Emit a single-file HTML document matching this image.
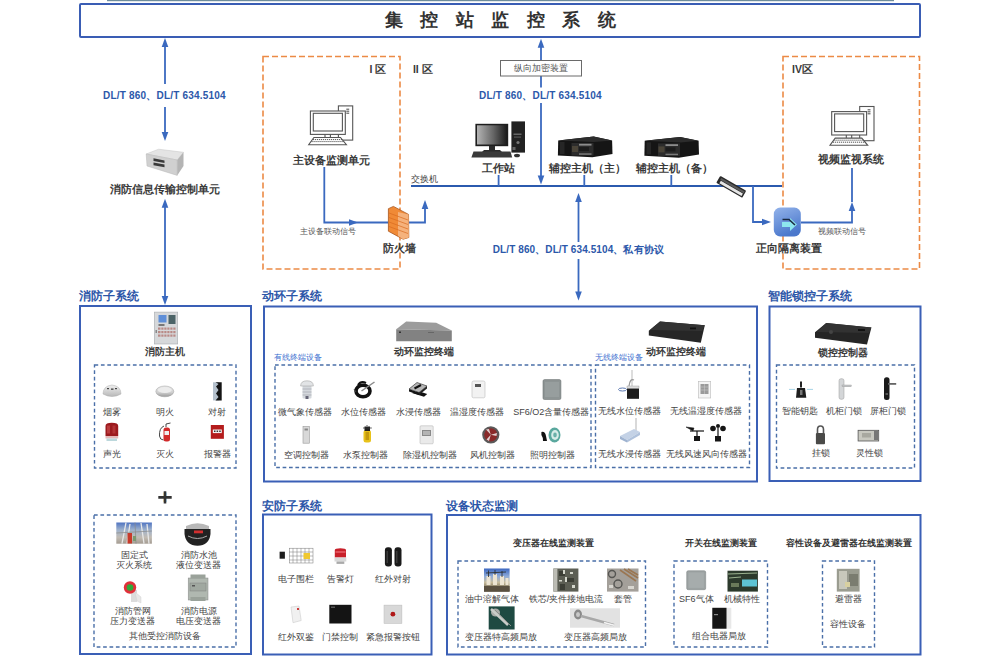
<!DOCTYPE html>
<html><head><meta charset="utf-8">
<style>
html,body{margin:0;padding:0;background:#fff;}
body{width:1000px;height:656px;position:relative;overflow:hidden;font-family:"Liberation Sans",sans-serif;color:#333;}
.t{position:absolute;white-space:nowrap;line-height:1;transform:translate(-50%,-50%);}
.b{font-weight:bold;}
.m{font-weight:500;}
.blue{color:#2c58aa;}
.sec{font-size:11.7px;font-weight:bold;color:#2c56a8;}
.lbl{font-size:9px;color:#444;}
.dev{font-size:10px;font-weight:bold;color:#3a3a3a;}
.i{position:absolute;}
svg.ov{position:absolute;left:0;top:0;}
</style></head><body>
<svg class="ov" width="1000" height="656" viewBox="0 0 1000 656">
<defs></defs>
<!-- top bar -->
<rect x="107" y="0" width="787" height="1.2" fill="#6f8d9c"/>
<!-- title box -->
<rect x="80" y="4" width="840" height="33" fill="none" stroke="#3a5db4" stroke-width="2" rx="1"/>
<!-- orange zone boxes -->
<g fill="none" stroke="#ec8a45" stroke-width="1.6" stroke-dasharray="6 3">
<rect x="263" y="56.5" width="137" height="212.5"/>
<rect x="783" y="56.5" width="136.5" height="212.5"/>
</g>
<!-- section boxes -->
<g fill="none" stroke="#3a5fb6" stroke-width="2">
<rect x="80" y="306" width="171" height="348"/>
<rect x="264" y="306.5" width="493" height="175"/>
<rect x="769.5" y="306.5" width="151" height="174.5"/>
<rect x="263" y="514.5" width="168.5" height="140"/>
<rect x="447" y="515" width="473.5" height="139.5"/>
</g>
<!-- inner dashed boxes -->
<g fill="none" stroke="#4a6fa8" stroke-width="1.4" stroke-dasharray="3.7 2.7">
<rect x="94.5" y="365" width="141.5" height="103"/>
<rect x="94" y="515" width="142" height="132"/>
<rect x="275" y="365" width="316" height="102.5"/>
<rect x="595.5" y="365" width="154" height="102.5"/>
<rect x="776.5" y="365" width="138" height="103"/>
<rect x="458" y="561" width="187.5" height="86"/>
<rect x="674" y="561" width="93.5" height="86"/>
<rect x="822.5" y="561" width="52" height="86"/>
</g>
<!-- connection lines -->
<g fill="none" stroke="#3a69bf" stroke-width="1.8">
<!-- left upper arrow -->
<line x1="165" y1="46" x2="165" y2="84"/>
<line x1="165" y1="107" x2="165" y2="133"/>
<line x1="165" y1="206" x2="165" y2="297"/>
<!-- center upper arrow -->
<line x1="541" y1="46" x2="541" y2="60"/>
<line x1="541" y1="76" x2="541" y2="87.5"/>
<line x1="541" y1="103" x2="541" y2="177"/>
<!-- center lower arrow -->
<line x1="578.5" y1="201" x2="578.5" y2="242"/>
<line x1="578.5" y1="259" x2="578.5" y2="292"/>
<!-- switch bus -->
<line x1="411" y1="186" x2="782" y2="186" stroke="#2b5aae" stroke-width="2"/>
<line x1="498.6" y1="175" x2="498.6" y2="186"/>
<line x1="584.3" y1="175" x2="584.3" y2="186"/>
<line x1="671.3" y1="175" x2="671.3" y2="186"/>
<!-- I zone -->
<polyline points="324.3,167 324.3,222.5 388,222.5"/>
<polyline points="409,222.5 425,222.5 425,207"/>
<!-- to isolator -->
<polyline points="753,186 753,222 762,222"/>
<polyline points="801,222.5 852,222.5 852,211"/>
<line x1="852" y1="202" x2="852" y2="168"/>
</g>
<g fill="#3a69bf">
<polygon points="165,38 161.7,47 168.3,47"/>
<polygon points="165,141 161.7,132 168.3,132"/>
<polygon points="165,198.7 161.7,207.7 168.3,207.7"/>
<polygon points="165,305 161.7,296 168.3,296"/>
<polygon points="541,38.7 537.7,47.7 544.3,47.7"/>
<polygon points="541,184.5 537.7,175.5 544.3,175.5"/>
<polygon points="578.5,193 575.2,202 581.8,202"/>
<polygon points="578.5,300.5 575.2,291.5 581.8,291.5"/>
<polygon points="358,222.5 349,219.2 349,225.8"/>
<polygon points="425,200 421.7,209 428.3,209"/>
<polygon points="771,222 762,218.7 762,225.3"/>
<polygon points="852,202 848.7,211 855.3,211"/>
</g>
<!-- 纵向加密装置 box -->
<rect x="500.5" y="60.5" width="81" height="15.5" fill="#fff" stroke="#6a6a6a" stroke-width="1"/>
</svg>

<svg class="ov" width="1000" height="656" viewBox="0 0 1000 656">
<!-- fire info transfer unit -->
<g>
<polygon points="146.2,154 158.6,149.2 183.5,152.3 177.2,160" fill="#e4e4e4" stroke="#c4c4c4" stroke-width="0.5"/>
<polygon points="146.2,154 177.2,160 177.2,175.4 147,166" fill="#d0d0d0" stroke="#b8b8b8" stroke-width="0.5"/>
<polygon points="177.2,160 183.5,152.3 183.5,166 177.2,175.4" fill="#b4b4b4"/>
<polygon points="153.5,158.3 164.5,160.4 164.5,163 153.5,161" fill="#3a3a3a"/>
<polygon points="153.5,162.5 164.5,164.6 164.5,167.2 153.5,165.2" fill="#3a3a3a"/>
</g>
<!-- PC line art -->
<g id="pc" fill="#fff" stroke="#555" stroke-width="1.1">
<rect x="338.4" y="105.9" width="14.3" height="34.2"/>
<line x1="346.3" y1="109.2" x2="349.2" y2="109.2"/>
<line x1="346.3" y1="111.2" x2="349.2" y2="111.2"/>
<line x1="346.3" y1="113.2" x2="349.2" y2="113.2"/>
<rect x="310.4" y="111" width="34.9" height="23.4"/>
<rect x="313.3" y="113.3" width="29.1" height="17.7"/>
<line x1="325" y1="134.4" x2="325" y2="137.5"/>
<line x1="330.4" y1="134.4" x2="330.4" y2="137.5"/>
<polygon points="313.9,137.5 340.5,137.5 346.4,144.7 308.7,144.7"/>
<path d="M313,139.6 H342 M311.5,141.6 H344" stroke-dasharray="1.2 0.8" stroke-width="1"/>
</g>
<use href="#pc" transform="translate(521.3,0.6)"/>
<!-- workstation -->
<g>
<rect x="475.4" y="123.8" width="32.8" height="22.4" fill="#1e1e1e"/>
<defs><linearGradient id="scr" x1="0" y1="0" x2="1" y2="0"><stop offset="0" stop-color="#b4b4b4"/><stop offset="0.55" stop-color="#666"/><stop offset="1" stop-color="#1c1c1c"/></linearGradient></defs>
<rect x="477" y="125.3" width="29.6" height="19.2" fill="url(#scr)"/>
<rect x="489" y="146" width="6" height="4" fill="#2a2a2a"/>
<polygon points="484,150 500,150 502,152 482,152" fill="#2a2a2a"/>
<polygon points="473.5,151.5 510.5,151.5 512.2,157.4 471.4,157.4" fill="#3a3a3a"/>
<rect x="511.4" y="121.4" width="13.6" height="31.2" fill="#222"/>
<rect x="513.5" y="133.5" width="8" height="1.5" fill="#666"/>
<rect x="514" y="136.5" width="7" height="1.2" fill="#555"/>
<circle cx="518" cy="142.5" r="1.6" fill="#777"/>
<rect x="512.5" y="147" width="3" height="3" fill="#666"/>
<ellipse cx="517" cy="155.5" rx="3" ry="1.8" fill="#333"/>
</g>
<!-- servers -->
<g id="srv">
<polygon points="558.2,140.4 593.6,136.5 612.1,140.4 612.5,154 592.3,157.3 557.9,155.4" fill="#151515"/>
<polygon points="558.2,140.4 593.6,136.5 612.1,140.4 594,142" fill="#2c2c2c"/>
<rect x="571.5" y="143" width="22" height="12.5" fill="#2c2c2c"/>
<rect x="572" y="146" width="6" height="6" fill="#4a4438"/>
<rect x="579" y="143.8" width="12.5" height="1.8" fill="#8c8c8c"/>
<rect x="579" y="147" width="10" height="4" fill="#1c1c1c"/>
<rect x="579" y="153.3" width="12.5" height="1.5" fill="#7a7a7a"/>
<rect x="560" y="142" width="4.5" height="12" fill="#262626"/>
</g>
<use href="#srv" transform="translate(86.5,0.4)"/>
<!-- rotated device on bus -->
<g transform="translate(731.2,186.8) rotate(30)">
<rect x="-15" y="-4" width="30" height="8" rx="1" fill="#2a2a2a"/>
<rect x="-12" y="0" width="25.5" height="2.8" fill="#e6e6e6"/>
<rect x="-13" y="-2.8" width="27" height="2.2" fill="#5a5a5a"/>
</g>
<!-- firewall -->
<g>
<polygon points="388.4,208.7 393.4,206.4 408.5,214.4 408.8,237.5 403.1,239.2 388.4,231.2" fill="#f08a36" stroke="#a8561e" stroke-width="0.8"/>
<polygon points="398,212 408.5,214.4 408.8,237.5 403.1,239.2 398,236" fill="#f5b27c"/>
<path d="M389,213 L408,220 M389,217.5 L408,224.5 M389,222 L408,229 M389,226.5 L408,233.5" stroke="#d86a20" stroke-width="0.7" fill="none"/>
</g>
<!-- isolator -->
<defs><linearGradient id="iso" x1="0" y1="0" x2="0.4" y2="1"><stop offset="0" stop-color="#93b3ea"/><stop offset="1" stop-color="#4b78cc"/></linearGradient></defs>
<rect x="773.8" y="207.6" width="27" height="28.8" rx="6.5" fill="url(#iso)"/>
<polygon points="782,222 790,222 790,218 797,224.5 790,231 790,227 782,227" fill="#8ee6ee"/>
<path d="M782.5,219.5 L789,219.5 L795,225" stroke="#1a2a40" stroke-width="1.6" fill="none"/>
</svg>

<svg class="ov" width="1000" height="656" viewBox="0 0 1000 656">
<!-- ===== fire subsystem ===== -->
<!-- fire host panel -->
<rect x="154.3" y="312.1" width="23.4" height="31.9" fill="#d6d8da" stroke="#a8acb0" stroke-width="0.6"/>
<rect x="158.5" y="315" width="8" height="7.5" fill="#5f8fd8"/>
<rect x="168.5" y="315" width="7" height="9" fill="#4c6468"/>
<rect x="158.5" y="324" width="6" height="2" fill="#777"/>
<g fill="#b98a86"><rect x="158" y="327.5" width="17.5" height="2.2"/><rect x="158" y="331" width="17.5" height="2.2"/><rect x="158" y="334.5" width="17.5" height="2.2"/></g>
<g fill="#d6d8da"><rect x="160.5" y="327" width="0.8" height="10"/><rect x="163.5" y="327" width="0.8" height="10"/><rect x="166.5" y="327" width="0.8" height="10"/><rect x="169.5" y="327" width="0.8" height="10"/><rect x="172.5" y="327" width="0.8" height="10"/></g>
<rect x="155.5" y="330" width="1.5" height="3" fill="#888"/>
<!-- smoke detector -->
<defs>
<linearGradient id="gdome" x1="0" y1="0" x2="0" y2="1"><stop offset="0" stop-color="#f0f0f0"/><stop offset="1" stop-color="#b8b8b8"/></linearGradient>
<linearGradient id="gdisc" x1="0" y1="0" x2="0" y2="1"><stop offset="0" stop-color="#e6e6e6"/><stop offset="0.6" stop-color="#cfcfcf"/><stop offset="1" stop-color="#9a9a9a"/></linearGradient>
</defs>
<path d="M103,394 Q103,386 112,385 Q121,386 121,394 Q112,399 103,394Z" fill="url(#gdome)" stroke="#aaa" stroke-width="0.5"/>
<g fill="#444"><rect x="107" y="388" width="2" height="1.2"/><rect x="111" y="388.5" width="2.5" height="1.3"/><rect x="115" y="388" width="2" height="1.2"/></g>
<!-- flame detector -->
<ellipse cx="164.8" cy="391.4" rx="9" ry="5.4" fill="url(#gdisc)" stroke="#a0a0a0" stroke-width="0.5"/>
<ellipse cx="164.8" cy="390" rx="7" ry="3" fill="#ececec"/>
<!-- beam detector -->
<rect x="213" y="382.3" width="6" height="18.1" fill="#b4c0cc"/>
<polygon points="215.5,382.3 221.7,382.3 221.7,400.4 215.5,400.4 218.5,397 216,393.5 218.5,390 216,386.5 218.5,384" fill="#141414"/>
<!-- sound-light alarm -->
<path d="M105.5,436 L105.5,426 Q105.5,422.8 111.8,422.8 Q118.2,422.8 118.2,426 L118.2,436Z" fill="#9c1a1e"/>
<rect x="107" y="425.5" width="3" height="8" fill="#c84a4a" opacity="0.7"/>
<rect x="112.5" y="425.5" width="3" height="8" fill="#c84a4a" opacity="0.5"/>
<rect x="105.5" y="436" width="12.7" height="2.5" fill="#e4b8b8"/>
<rect x="106.5" y="438.5" width="10.5" height="2.5" fill="#bcd8dc"/>
<!-- extinguisher -->
<rect x="163.5" y="427.5" width="6.5" height="14" rx="2.5" fill="#d22a2a"/>
<rect x="164.5" y="431" width="4.5" height="4" fill="#eee"/>
<path d="M166,427 L166,424 L170.5,423 M164,426 Q159,428 159.5,436 Q160,440 163.5,440" stroke="#333" stroke-width="0.9" fill="none"/>
<!-- manual alarm button -->
<rect x="210.8" y="425" width="13.1" height="13.8" fill="#b41c1c"/>
<rect x="212.8" y="429.5" width="9" height="3.6" fill="#f4f0f0"/>
<g fill="#333"><rect x="214" y="430.5" width="1.5" height="1.5"/><rect x="216.6" y="430.5" width="1.5" height="1.5"/><rect x="219.2" y="430.5" width="1.5" height="1.5"/></g>
<!-- plus -->
<path d="M158.3,497.4 H171.7 M165,491.2 V503.6" stroke="#333" stroke-width="2.6"/>
<!-- fixed extinguishing system photo -->
<defs><linearGradient id="gsky" x1="0" y1="0" x2="0" y2="1"><stop offset="0" stop-color="#4f74c2"/><stop offset="0.35" stop-color="#9fb2cc"/><stop offset="0.7" stop-color="#c2bcb4"/><stop offset="1" stop-color="#a49c92"/></linearGradient></defs>
<rect x="116.3" y="522.5" width="35.6" height="21.2" fill="url(#gsky)"/>
<g stroke="#e8e8e8" stroke-width="1.3"><line x1="122" y1="543.7" x2="126" y2="522.5"/><line x1="127" y1="543.7" x2="130" y2="524"/><line x1="144" y1="543.7" x2="141" y2="523"/><line x1="149" y1="543.7" x2="147" y2="524"/></g>
<g stroke="#8a8a88" stroke-width="0.7"><line x1="116.3" y1="533" x2="151.9" y2="531"/><line x1="135" y1="522.5" x2="136" y2="543.7"/></g>
<rect x="127.5" y="533" width="4.5" height="10.5" fill="#c83a2a"/>
<rect x="133" y="536" width="3" height="5" fill="#7a9a70"/>
<!-- fire pool level transmitter -->
<path d="M186,526 Q197.5,520.5 209,526 L209,529 L186,529Z" fill="#b8b8b8"/>
<path d="M184.5,529 L210.5,529 L210.5,534 Q209,545.7 197.5,545.7 Q186,545.7 184.5,534Z" fill="#222"/>
<rect x="194" y="530.5" width="9" height="2.8" fill="#d23030"/>
<path d="M188,536 Q197.5,541 207,536" stroke="#aaa" stroke-width="1" fill="none"/>
<!-- pipe pressure transmitter -->
<rect x="131" y="590" width="6" height="12" fill="#dcdcdc"/>
<path d="M135,592 L141,597 L141,603 L137,601Z" fill="#e8e8e8" stroke="#ccc" stroke-width="0.4"/>
<circle cx="130" cy="587.5" r="6.2" fill="#e0303a"/>
<circle cx="130" cy="587.5" r="3.3" fill="#2faa3a"/>
<!-- fire power voltage transmitter -->
<rect x="188.2" y="578" width="19.8" height="22" fill="#b0b8b0" stroke="#888" stroke-width="0.5"/>
<rect x="190.5" y="574.5" width="15" height="4" fill="#9aa29a"/>
<rect x="190" y="583" width="16" height="8" fill="#a0a8a0" stroke="#7a7a7a" stroke-width="0.4"/>
<rect x="190.5" y="597" width="15" height="4" fill="#9aa29a"/>
<rect x="192" y="585" width="3" height="1.5" fill="#555"/>

<!-- ===== environment subsystem ===== -->
<!-- gray terminal -->
<polygon points="396.2,329.2 406.2,321.4 436.2,322.8 451.8,330.6" fill="#9c9c9c"/>
<polygon points="396.2,329.2 451.8,330.6 451.8,341.2 396.2,341.2" fill="#828282"/>
<rect x="399" y="331.5" width="2" height="1.5" fill="#333"/>
<rect x="428" y="332" width="6" height="1" fill="#666"/>
<!-- black terminal -->
<polygon points="660,321.4 704.8,325.2 700.8,342.8 648.8,335.6 648.8,330.8" fill="#262626"/>
<polygon points="660,321.4 704.8,325.2 702,331 650,330" fill="#333"/>
<rect x="690" y="327.5" width="6" height="1.8" fill="#111"/>
<!-- lock controller -->
<polygon points="826.2,323 871.4,327.4 867,344.6 815,337.8 815,332.2" fill="#252525"/>
<polygon points="826.2,323 871.4,327.4 869,333 817,332" fill="#323232"/>
<rect x="858" y="329" width="7" height="2" fill="#111"/>
<circle cx="831" cy="332" r="2" fill="#444"/>
<!-- micro weather -->
<rect x="302.5" y="385.5" width="9" height="13" rx="1" fill="#d4d8dc"/>
<g stroke="#9aa0a8" stroke-width="0.6"><line x1="302.5" y1="389" x2="311.5" y2="389"/><line x1="302.5" y1="392" x2="311.5" y2="392"/><line x1="302.5" y1="395" x2="311.5" y2="395"/></g>
<path d="M300.6,386 Q300.6,380.8 307,380.8 Q313.4,380.8 313.4,386Z" fill="#e2e4e6" stroke="#9a9a9a" stroke-width="0.5"/>
<rect x="305.5" y="396" width="3" height="3" fill="#667"/>
<!-- water level (coil) -->
<path d="M358,385 Q361,380.5 366,383" stroke="#111" stroke-width="2.2" fill="none"/>
<ellipse cx="363" cy="391" rx="7" ry="5.8" fill="none" stroke="#111" stroke-width="3.6"/>
<path d="M361.5,391 L374.5,382" stroke="#8a8a8a" stroke-width="1.5"/>
<path d="M354,389 L356,392" stroke="#444" stroke-width="1"/>
<!-- water immersion -->
<polygon points="412,393 424,396.8 427.2,394 418,391" fill="#111"/>
<polygon points="409,389 419,392.5 419,395 409,391.5" fill="#151515"/>
<polygon points="419,392.5 427,386 427,388.5 419,395" fill="#222"/>
<polygon points="409,389 417,382.5 427,386 419,392.5" fill="#b8b8b8" stroke="#222" stroke-width="0.6"/>
<path d="M414.5,388.5 L421,385" stroke="#111" stroke-width="2"/>
<!-- temp humidity -->
<rect x="472" y="381" width="13" height="16.8" rx="1.5" fill="#f2f2f2" stroke="#c4c4c4" stroke-width="0.7"/>
<rect x="475" y="384" width="6" height="3" fill="#555"/>
<!-- SF6/O2 -->
<rect x="543" y="379.6" width="17.9" height="19.9" rx="1.5" fill="#8d9494" stroke="#6d7474" stroke-width="0.6"/>
<rect x="545" y="382" width="14" height="15" fill="#979e9e"/>
<!-- AC controller -->
<rect x="303" y="426.4" width="6.4" height="16.8" fill="#d8d8d8" stroke="#9a9a9a" stroke-width="0.6"/>
<rect x="304.5" y="428.5" width="3.4" height="2" fill="#888"/>
<!-- pump -->
<rect x="363.5" y="430" width="7.5" height="12.5" rx="2.5" fill="#e8c21a"/>
<rect x="364.5" y="426.5" width="5.5" height="4.5" fill="#222"/>
<path d="M367,426 L367,425 M363,428 L371.8,428" stroke="#333" stroke-width="0.8"/>
<rect x="365.5" y="432" width="3.5" height="8" fill="#c49a10"/>
<!-- dehumidifier -->
<rect x="420" y="425.8" width="13.2" height="18" rx="1" fill="#eaeaea" stroke="#b8b8b8" stroke-width="0.6"/>
<rect x="422" y="430" width="9" height="6" fill="#8a8a8a"/>
<rect x="423" y="431" width="7" height="4" fill="#b4b4b4"/>
<!-- fan -->
<circle cx="490.8" cy="434.8" r="8.6" fill="#5a5a5a"/>
<circle cx="490.8" cy="434.8" r="6.6" fill="#8a2a2a"/>
<path d="M490.8,434.8 L486,429.5 L489,429 Z M490.8,434.8 L497,433 L496.5,436 Z M490.8,434.8 L489,441 L486.5,439.5 Z" fill="#e0d0d0"/>
<!-- lighting -->
<path d="M541.4,432 Q545,431 546,436 L547,441 L543,441 Q543,437 541.4,435Z" fill="#111"/>
<ellipse cx="554.5" cy="435" rx="6" ry="7.5" fill="#5aa89e"/>
<ellipse cx="555" cy="435" rx="3.8" ry="5" fill="#d8ece8"/>
<ellipse cx="555" cy="435" rx="1.8" ry="2.4" fill="#6ab0a8"/>
<!-- wireless water level -->
<line x1="632" y1="370" x2="632" y2="386" stroke="#aaa" stroke-width="0.8"/>
<path d="M629,386 Q630,378 634,380" stroke="#999" stroke-width="1.2" fill="none"/>
<rect x="627" y="388" width="12" height="10.8" fill="#1c1c1c"/>
<rect x="627" y="386" width="12" height="2.5" fill="#ddd" stroke="#999" stroke-width="0.4"/>
<ellipse cx="622.5" cy="389.5" rx="4" ry="1.5" fill="none" stroke="#4a6aa8" stroke-width="0.9"/>
<!-- wireless temp/hum -->
<rect x="698.4" y="381.3" width="12.3" height="16.7" fill="#f4f4f4" stroke="#bbb" stroke-width="0.6"/>
<rect x="700.5" y="384" width="8" height="10" fill="#9a9a9a"/>
<g stroke="#ccc" stroke-width="0.5"><line x1="700.5" y1="387" x2="708.5" y2="387"/><line x1="700.5" y1="390" x2="708.5" y2="390"/><line x1="704.5" y1="384" x2="704.5" y2="394"/></g>
<!-- wireless immersion -->
<line x1="636" y1="418" x2="636" y2="432" stroke="#aaa" stroke-width="0.9"/>
<polygon points="620,436 634,429 640,432 627,440" fill="#c4d2e6"/>
<polygon points="620,436 627,440 627,442.6 620,439" fill="#9fb3d0"/>
<polygon points="627,440 640,432 640,435 627,442.6" fill="#b0c2dc"/>
<!-- wind speed / direction -->
<g fill="#151515" stroke="#151515">
<path d="M686,427 L694,428 L693,431 Z" stroke-width="0.5"/>
<line x1="690" y1="431" x2="704" y2="431" stroke-width="1.2"/>
<line x1="697" y1="431" x2="697" y2="436" stroke-width="1.2"/>
<rect x="694" y="436" width="6" height="5" stroke="none"/>
<circle cx="713" cy="428.5" r="2.8" stroke="none"/>
<circle cx="723" cy="428.5" r="2.8" stroke="none"/>
<circle cx="718" cy="426" r="2" stroke="none"/>
<line x1="718" y1="428" x2="718" y2="436" stroke-width="1.2"/>
<rect x="715" y="436" width="6" height="5.5" stroke="none"/>
</g>

<!-- ===== lock subsystem ===== -->
<!-- smart key -->
<g stroke="#8ec8e0" stroke-width="0.8" fill="none"><line x1="789" y1="389.4" x2="795" y2="389.4"/><line x1="807" y1="389.4" x2="813" y2="389.4"/></g>
<rect x="800" y="381.5" width="2" height="6" fill="#222"/>
<path d="M796,397.8 L797,388 L805,388 L806.3,397.8Z" fill="#1e1e1e"/>
<rect x="800" y="390" width="2.5" height="5" fill="#777"/>
<!-- cabinet door lock -->
<rect x="839" y="378.7" width="5" height="20.6" rx="2" fill="#d4d6d8" stroke="#999" stroke-width="0.5"/>
<rect x="842" y="385" width="9.3" height="1.8" fill="#c4c6c8" stroke="#999" stroke-width="0.4"/>
<!-- panel door lock -->
<rect x="884" y="377.2" width="5.5" height="22.8" rx="2.5" fill="#1a1a1a"/>
<rect x="888" y="383" width="8.2" height="1.8" fill="#666"/>
<rect x="885.5" y="393" width="2.5" height="2" fill="#555"/>
<!-- padlock -->
<path d="M817.5,433 L817.5,429.5 Q817.5,426 820.5,426 Q823.5,426 823.5,429.5 L823.5,433" stroke="#555" stroke-width="1.6" fill="none"/>
<rect x="815.9" y="433" width="9.1" height="11.3" rx="1" fill="#4a4a48"/>
<!-- smart lock box -->
<rect x="858.1" y="430.3" width="20.6" height="10.7" fill="#c8c8c0" stroke="#555" stroke-width="0.8"/>
<rect x="862" y="433" width="9" height="4.5" fill="#a8a8a0"/>
<rect x="874" y="431" width="4" height="9" fill="#777"/>

<!-- ===== security subsystem ===== -->
<rect x="279.6" y="551.7" width="5.3" height="7" fill="#1e1e1e"/>
<g stroke="#777" stroke-width="0.5" fill="none">
<rect x="289.3" y="548.2" width="23.7" height="14.8"/>
<line x1="293" y1="548.2" x2="293" y2="563"/><line x1="297" y1="548.2" x2="297" y2="563"/><line x1="301" y1="548.2" x2="301" y2="563"/><line x1="305" y1="548.2" x2="305" y2="563"/><line x1="309" y1="548.2" x2="309" y2="563"/>
<line x1="289.3" y1="552" x2="313" y2="552"/><line x1="289.3" y1="556" x2="313" y2="556"/><line x1="289.3" y1="560" x2="313" y2="560"/>
</g>
<rect x="303.5" y="553" width="6.5" height="6" fill="#f0c830"/>
<!-- warning light -->
<path d="M334.8,557.5 L334.8,550 Q334.8,548.2 340.4,548.2 Q346,548.2 346,550 L346,557.5Z" fill="#c8202a"/>
<rect x="335.5" y="551" width="10" height="2" fill="#e0505a"/>
<rect x="334.5" y="557.5" width="11.8" height="4" fill="#d8d8d8"/>
<rect x="336.5" y="561.5" width="7.8" height="2.4" fill="#aaa"/>
<!-- IR beams -->
<rect x="384.9" y="547.3" width="7" height="19.3" rx="3" fill="#1a1a1a"/>
<rect x="394.5" y="547.3" width="7" height="19.3" rx="3" fill="#1a1a1a"/>
<rect x="386.5" y="551" width="1.5" height="12" fill="#3a3a3a"/>
<rect x="396" y="551" width="1.5" height="12" fill="#3a3a3a"/>
<!-- dual detector -->
<path d="M291,607 L299,606 L301.2,620.5 L293,622.7 Z" fill="#f0f0f0" stroke="#ccc" stroke-width="0.6"/>
<rect x="297" y="608" width="2" height="2" fill="#d04040"/>
<!-- access control -->
<rect x="329.3" y="604.8" width="22.2" height="18.7" fill="#141414"/>
<rect x="331" y="606.5" width="4" height="1.5" fill="#555"/>
<!-- emergency button -->
<rect x="384" y="605.1" width="17.9" height="18.4" fill="#d8d8d8" stroke="#bbb" stroke-width="0.5"/>
<circle cx="392.9" cy="614.2" r="2.4" fill="#b01818"/>

<!-- ===== equipment status monitoring ===== -->
<defs>
<linearGradient id="goil" x1="0" y1="0" x2="0" y2="1"><stop offset="0" stop-color="#3a66c0"/><stop offset="0.35" stop-color="#90acd8"/><stop offset="0.6" stop-color="#c8bc9c"/><stop offset="1" stop-color="#4a4232"/></linearGradient>
</defs>
<rect x="484" y="568.5" width="25.6" height="23.1" fill="url(#goil)"/>
<g fill="#ece4d2"><rect x="486.5" y="576" width="4" height="9"/><rect x="493" y="574" width="4" height="11"/><rect x="500" y="576" width="4" height="9"/><rect x="505.5" y="578" width="3" height="7"/></g>
<g stroke="#2a2a24" stroke-width="0.8"><line x1="488.5" y1="570.5" x2="488.5" y2="577"/><line x1="495" y1="570" x2="495" y2="575"/><line x1="502" y1="571" x2="502" y2="577"/><line x1="486" y1="573" x2="506" y2="572"/></g>
<rect x="484" y="586" width="25.6" height="5.6" fill="#5a5040"/>
<!-- iron core -->
<rect x="553.4" y="568.5" width="25" height="23.1" fill="#5c5e54"/>
<rect x="553.4" y="568.5" width="4" height="23.1" fill="#bcbcb4"/>
<g fill="#3c3e36"><rect x="559" y="571" width="6" height="5"/><rect x="567" y="578" width="7" height="4"/><rect x="560" y="584" width="5" height="6"/></g>
<g fill="#d4d6cc"><rect x="563" y="570" width="2" height="4"/><rect x="570" y="572" width="3" height="2"/><rect x="565" y="577" width="2" height="5"/><rect x="572" y="585" width="3" height="3"/><rect x="559" y="580" width="3" height="1.5"/></g>
<!-- bushing -->
<rect x="607" y="568.5" width="31.5" height="23.1" fill="#a4a09a"/>
<g stroke="#9a7652" stroke-width="1.6"><line x1="624" y1="569" x2="638" y2="578"/><line x1="628" y1="569" x2="638" y2="575"/><line x1="620" y1="570" x2="636" y2="581"/></g>
<g fill="none" stroke="#555552" stroke-width="1.4"><circle cx="612" cy="574" r="3.5"/><circle cx="618" cy="584" r="4"/></g>
<g fill="#d8d6d0"><rect x="609" y="585" width="4" height="3"/><rect x="628" y="586" width="6" height="3"/></g>
<!-- UHF PD -->
<rect x="488.7" y="606.4" width="25.9" height="23.1" fill="#1e4a42"/>
<ellipse cx="495.5" cy="612.5" rx="4.5" ry="4" fill="#a8aca8"/>
<line x1="491" y1="609" x2="508" y2="625" stroke="#c8ccc8" stroke-width="2.6"/>
<line x1="495" y1="610" x2="511" y2="626" stroke="#8a8e8a" stroke-width="1"/>
<!-- HF PD -->
<rect x="570" y="608.3" width="50" height="19.4" fill="#e2e2e2"/>
<ellipse cx="578" cy="614.5" rx="4" ry="5" fill="#8a8a8a"/>
<ellipse cx="578" cy="614.5" rx="2" ry="2.6" fill="#c8c8c8"/>
<line x1="581" y1="616" x2="614" y2="625" stroke="#a8a8a8" stroke-width="2.4"/>
<line x1="604" y1="622.5" x2="614" y2="625.3" stroke="#f4f4f4" stroke-width="1.6"/>
<!-- switch SF6 -->
<rect x="686.7" y="570.7" width="19" height="19" rx="1.5" fill="#9ca2a2" stroke="#7a8080" stroke-width="0.5"/>
<rect x="688.5" y="572.5" width="15.4" height="15.4" fill="#a6acac"/>
<!-- mechanical characteristics -->
<rect x="727.5" y="570.7" width="30.4" height="20.9" fill="#2c3a2c"/>
<rect x="742" y="579.5" width="15" height="7" fill="#5ec4d4"/>
<g stroke="#b8d0a8" stroke-width="0.8"><line x1="728" y1="574" x2="757" y2="573"/><line x1="729" y1="578" x2="741" y2="577"/></g>
<rect x="731" y="583" width="8" height="4" fill="#6a7a5a"/>
<!-- GIS PD -->
<rect x="712.3" y="607.8" width="19" height="20.9" fill="#e8e8e8"/>
<rect x="712.3" y="607.8" width="14.2" height="20.9" fill="#151515"/>
<rect x="714" y="614" width="4" height="1.2" fill="#888"/>
<!-- arrester -->
<rect x="836.8" y="568.8" width="22.8" height="22.8" fill="#9a9c90"/>
<rect x="839" y="571" width="8" height="18" fill="#c8c8bc"/>
<rect x="849" y="574" width="9" height="12" fill="#7a7c70"/>
<rect x="845" y="582" width="5" height="5" fill="#d8d0a0"/>
</svg>

<!-- title -->
<div class="t b" style="left:509px;top:20px;font-size:18px;letter-spacing:17.5px;color:#333;">集控站监控系统</div>

<!-- protocol labels -->
<div class="t b blue" style="left:164.5px;top:96px;font-size:10px;letter-spacing:0.2px;">DL/T 860、DL/T 634.5104</div>
<div class="t b blue" style="left:540.5px;top:95.6px;font-size:10px;letter-spacing:0.2px;">DL/T 860、DL/T 634.5104</div>
<div class="t b blue" style="left:578.3px;top:250px;font-size:10px;letter-spacing:0.1px;">DL/T 860、DL/T 634.5104、私有协议</div>
<div class="t" style="left:541px;top:68.3px;font-size:9px;color:#555;">纵向加密装置</div>

<!-- zone labels -->
<div class="t b" style="left:378px;top:68.6px;font-size:10.5px;color:#3a3a3a;">I 区</div>
<div class="t b" style="left:422.8px;top:68.6px;font-size:10.5px;color:#3a3a3a;">II 区</div>
<div class="t b" style="left:802.5px;top:68.6px;font-size:10.5px;color:#3a3a3a;">IV区</div>

<!-- top devices labels -->
<div class="t dev" style="left:164.7px;top:189px;font-size:11px;">消防信息传输控制单元</div>
<div class="t dev" style="left:331.5px;top:160.2px;font-size:11px;">主设备监测单元</div>
<div class="t dev" style="left:851.2px;top:159.2px;font-size:11px;">视频监视系统</div>
<div class="t dev" style="left:498px;top:167.8px;font-size:11px;">工作站</div>
<div class="t dev" style="left:587.5px;top:167.8px;font-size:11px;">辅控主机（主）</div>
<div class="t dev" style="left:674px;top:167.6px;font-size:11px;">辅控主机（备）</div>
<div class="t dev" style="left:399px;top:247.6px;font-size:11px;">防火墙</div>
<div class="t dev" style="left:788.6px;top:248px;font-size:11px;">正向隔离装置</div>
<div class="t" style="left:424px;top:179px;font-size:9px;color:#444;">交换机</div>
<div class="t" style="left:328px;top:231.6px;font-size:8px;color:#555;">主设备联动信号</div>
<div class="t" style="left:842px;top:232px;font-size:8px;color:#555;">视频联动信号</div>

<!-- section titles -->
<div class="t sec" style="left:108.7px;top:296px;">消防子系统</div>
<div class="t sec" style="left:291.5px;top:296px;">动环子系统</div>
<div class="t sec" style="left:810px;top:296px;">智能锁控子系统</div>
<div class="t sec" style="left:292.3px;top:506px;">安防子系统</div>
<div class="t sec" style="left:482.3px;top:506px;">设备状态监测</div>

<!-- fire subsystem -->
<div class="t dev" style="left:165.2px;top:352.2px;font-size:10px;">消防主机</div>
<div class="t lbl" style="left:112.4px;top:411.6px;">烟雾</div>
<div class="t lbl" style="left:164.9px;top:411.6px;">明火</div>
<div class="t lbl" style="left:217.4px;top:411.6px;">对射</div>
<div class="t lbl" style="left:112.4px;top:454.3px;">声光</div>
<div class="t lbl" style="left:164.9px;top:454.3px;">灭火</div>
<div class="t lbl" style="left:217.4px;top:454.3px;">报警器</div>
<div class="t b" style="left:165px;top:497.4px;font-size:18px;color:#333;">+</div>
<div class="t lbl" style="left:134.3px;top:555.2px;">固定式</div>
<div class="t lbl" style="left:134.3px;top:565.3px;">灭火系统</div>
<div class="t lbl" style="left:198.5px;top:555.2px;">消防水池</div>
<div class="t lbl" style="left:198.5px;top:565.3px;">液位变送器</div>
<div class="t lbl" style="left:132.5px;top:611px;">消防管网</div>
<div class="t lbl" style="left:132.5px;top:621px;">压力变送器</div>
<div class="t lbl" style="left:198.5px;top:611px;">消防电源</div>
<div class="t lbl" style="left:198.5px;top:621px;">电压变送器</div>
<div class="t lbl" style="left:164.5px;top:636.3px;">其他受控消防设备</div>

<!-- environment subsystem -->
<div class="t dev" style="left:423.6px;top:352.2px;font-size:10px;">动环监控终端</div>
<div class="t dev" style="left:676px;top:352.4px;font-size:10px;">动环监控终端</div>
<div class="t" style="left:297.8px;top:358.4px;font-size:8px;color:#3b6fd0;">有线终端设备</div>
<div class="t" style="left:618.8px;top:358.4px;font-size:8px;color:#3b6fd0;">无线终端设备</div>
<div class="t lbl" style="left:304.5px;top:411.8px;">微气象传感器</div>
<div class="t lbl" style="left:363.4px;top:411.8px;">水位传感器</div>
<div class="t lbl" style="left:418.3px;top:411.8px;">水浸传感器</div>
<div class="t lbl" style="left:477.2px;top:411.8px;">温湿度传感器</div>
<div class="t lbl" style="left:551.2px;top:411.8px;">SF6/O2含量传感器</div>
<div class="t lbl" style="left:306.6px;top:455px;">空调控制器</div>
<div class="t lbl" style="left:365.8px;top:455px;">水泵控制器</div>
<div class="t lbl" style="left:429.5px;top:455px;">除湿机控制器</div>
<div class="t lbl" style="left:492.9px;top:455px;">风机控制器</div>
<div class="t lbl" style="left:552.2px;top:455px;">照明控制器</div>
<div class="t lbl" style="left:629.5px;top:411.4px;">无线水位传感器</div>
<div class="t lbl" style="left:706.3px;top:411.4px;">无线温湿度传感器</div>
<div class="t lbl" style="left:629.5px;top:454px;">无线水浸传感器</div>
<div class="t lbl" style="left:706.5px;top:454px;">无线风速风向传感器</div>

<!-- lock subsystem -->
<div class="t dev" style="left:843.2px;top:352.6px;font-size:10px;">锁控控制器</div>
<div class="t lbl" style="left:800.4px;top:410.8px;">智能钥匙</div>
<div class="t lbl" style="left:843.5px;top:410.8px;">机柜门锁</div>
<div class="t lbl" style="left:888.2px;top:410.8px;">屏柜门锁</div>
<div class="t lbl" style="left:821.2px;top:453.2px;">挂锁</div>
<div class="t lbl" style="left:869.2px;top:453.2px;">灵性锁</div>

<!-- security subsystem -->
<div class="t lbl" style="left:296px;top:579.2px;">电子围栏</div>
<div class="t lbl" style="left:340.6px;top:579.2px;">告警灯</div>
<div class="t lbl" style="left:393.1px;top:579.2px;">红外对射</div>
<div class="t lbl" style="left:296px;top:636.7px;">红外双鉴</div>
<div class="t lbl" style="left:340.2px;top:636.7px;">门禁控制</div>
<div class="t lbl" style="left:393.2px;top:636.7px;">紧急报警按钮</div>

<!-- equipment status monitoring -->
<div class="t b" style="left:553.3px;top:542.5px;font-size:9px;color:#333;">变压器在线监测装置</div>
<div class="t b" style="left:721px;top:543px;font-size:9px;color:#333;">开关在线监测装置</div>
<div class="t b" style="left:848.7px;top:543px;font-size:9px;color:#333;">容性设备及避雷器在线监测装置</div>
<div class="t lbl" style="left:491.5px;top:598.6px;">油中溶解气体</div>
<div class="t lbl" style="left:566px;top:598.6px;">铁芯/夹件接地电流</div>
<div class="t lbl" style="left:622.7px;top:598.6px;">套管</div>
<div class="t lbl" style="left:500.7px;top:637px;">变压器特高频局放</div>
<div class="t lbl" style="left:595.5px;top:637px;">变压器高频局放</div>
<div class="t lbl" style="left:696.3px;top:598.8px;">SF6气体</div>
<div class="t lbl" style="left:742.4px;top:598.8px;">机械特性</div>
<div class="t lbl" style="left:719.1px;top:636px;">组合电器局放</div>
<div class="t lbl" style="left:848.2px;top:598.8px;">避雷器</div>
<div class="t lbl" style="left:848.2px;top:623.9px;">容性设备</div>

</body></html>
